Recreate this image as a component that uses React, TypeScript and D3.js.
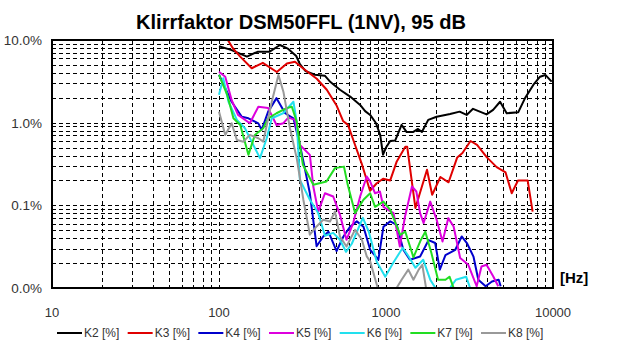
import React from "react";
import * as d3 from "d3";

const titleText = "Klirrfaktor DSM50FFL (1NV), 95 dB";
const xTickValues = [10, 100, 1000, 10000];
const xTickLabels = ["10", "100", "1000", "10000"];
const yTickValues = [0.01, 0.1, 1, 10];
const yTickLabels = ["0.0%", "0.1%", "1.0%", "10.0%"];
const seriesNames = ["K2 [%]", "K3 [%]", "K4 [%]", "K5 [%]", "K6 [%]", "K7 [%]", "K8 [%]"];
const seriesColors = ["#000000", "#e00000", "#0000cc", "#dd00dd", "#22e0ee", "#22dd22", "#999999"];

const k2: [number, number][] = [
  [100, 8.4], [118, 7.6], [147, 6.3], [170, 7.2], [200, 7.2], [232, 8.7], [260, 7.8], [290, 6.4],
  [305, 5.1], [330, 4.2], [375, 3.8], [430, 3.7], [465, 3.1], [530, 2.5], [610, 2.07], [700, 1.64],
  [750, 1.38], [804, 1.24], [870, 0.99], [923, 0.71], [960, 0.41], [1000, 0.5], [1060, 0.6],
  [1136, 0.61], [1240, 0.94], [1330, 0.77], [1450, 0.77], [1555, 0.84], [1640, 0.77], [1790, 1.08],
  [2010, 1.18], [2420, 1.27], [2760, 1.36], [3040, 1.24], [3320, 1.47], [4000, 1.26], [4380, 1.43],
  [4820, 1.79], [5280, 1.3], [6200, 1.34], [6800, 1.98], [7620, 2.86], [8360, 3.6], [9000, 3.78],
  [9820, 3.14],
];

const k3: [number, number][] = [
  [113, 10], [121, 7.95], [134, 6.3], [157, 4.55], [183, 5.3], [222, 4.1], [255, 5.2], [285, 5.45],
  [318, 4.55], [385, 3.4], [442, 2.5], [507, 1.6], [553, 1.05], [592, 0.94], [652, 0.54], [715, 0.32],
  [802, 0.15], [880, 0.185], [960, 0.21], [1060, 0.2], [1160, 0.34], [1305, 0.51], [1340, 0.51],
  [1430, 0.19], [1500, 0.093], [1605, 0.146], [1760, 0.27], [1890, 0.134], [2117, 0.22], [2370, 0.19],
  [2670, 0.38], [2870, 0.43], [3207, 0.6], [3510, 0.54], [4020, 0.38], [4600, 0.29], [5200, 0.25],
  [5660, 0.14], [6170, 0.2], [7050, 0.2], [7550, 0.084],
];

const k4: [number, number][] = [
  [100, 3.8], [119, 1.79], [137, 1.18], [150, 1.13], [172, 0.98], [180, 0.82], [197, 1.36], [221, 1.98],
  [249, 1.3], [279, 1.13], [305, 0.54], [320, 0.34], [350, 0.14], [384, 0.032], [421, 0.042],
  [452, 0.048], [506, 0.028], [556, 0.042], [609, 0.055], [669, 0.064], [733, 0.055], [804, 0.029],
  [900, 0.022], [965, 0.055], [1060, 0.064], [1160, 0.058], [1270, 0.029], [1390, 0.022], [1600, 0.024],
  [1800, 0.038], [1970, 0.035], [2100, 0.0167], [2270, 0.025], [2600, 0.029], [2840, 0.042],
  [3050, 0.035], [3340, 0.024], [3570, 0.0126], [3950, 0.0105], [4310, 0.012], [4730, 0.0126],
  [4860, 0.0105],
];

const k5: [number, number][] = [
  [100, 4.14], [109, 3.6], [119, 1.88], [130, 1.24], [153, 0.985], [172, 1.56], [197, 1.5], [221, 0.938],
  [243, 0.985], [260, 1.15], [285, 1.08], [305, 0.538], [350, 0.408], [367, 0.169], [393, 0.084],
  [431, 0.14], [483, 0.128], [530, 0.0768], [580, 0.0383], [636, 0.061], [700, 0.128], [767, 0.223],
  [804, 0.194], [860, 0.14], [920, 0.147], [965, 0.096], [1110, 0.0805], [1210, 0.0318], [1300, 0.0732],
  [1430, 0.169], [1520, 0.147], [1600, 0.0805], [1680, 0.061], [1840, 0.111], [2010, 0.0669],
  [2180, 0.0365], [2360, 0.07], [2540, 0.0555], [2780, 0.0231], [3110, 0.0191], [3490, 0.0105],
  [3730, 0.0182], [4000, 0.0191], [4390, 0.0138], [4700, 0.0105],
];

const k6: [number, number][] = [
  [100, 2.17], [106, 3.45], [114, 1.79], [128, 1.08], [143, 0.856], [157, 0.589], [176, 0.372],
  [193, 0.648], [207, 1.13], [242, 1.3], [279, 1.79], [292, 1.03], [305, 0.203], [350, 0.117],
  [392, 0.0812], [431, 0.0429], [483, 0.0465], [530, 0.0383], [576, 0.0274], [624, 0.0343],
  [685, 0.0535], [727, 0.0706], [789, 0.0479], [880, 0.0208], [990, 0.0137], [1105, 0.0202],
  [1260, 0.0307], [1370, 0.0239], [1500, 0.0176], [1670, 0.022], [1840, 0.0126], [1990, 0.0098],
  [2400, 0.0098], [2620, 0.0126], [3020, 0.0137], [3200, 0.0098],
];

const k7: [number, number][] = [
  [100, 3.78], [112, 2.17], [122, 1.13], [134, 0.938], [150, 0.408], [164, 0.711], [184, 0.855],
  [197, 1.13], [221, 1.3], [254, 1.5], [273, 1.56], [292, 1.03], [305, 0.538], [318, 0.309],
  [367, 0.177], [440, 0.194], [495, 0.282], [560, 0.294], [590, 0.177], [653, 0.0805], [733, 0.117],
  [804, 0.14], [860, 0.096], [965, 0.111], [1060, 0.0883], [1217, 0.044], [1305, 0.048], [1460, 0.0235],
  [1605, 0.037], [1720, 0.048], [1870, 0.0265], [2050, 0.0126], [2270, 0.0126], [2400, 0.0137],
  [2550, 0.0098],
];

const k8: [number, number][] = [
  [100, 1.36], [109, 0.711], [119, 0.985], [128, 0.618], [140, 0.589], [153, 0.711], [172, 0.648],
  [184, 0.589], [207, 1.79], [227, 3.78], [243, 2.37], [266, 0.855], [292, 0.372], [320, 0.117],
  [350, 0.0441], [384, 0.0555], [421, 0.0669], [462, 0.0638], [495, 0.0842], [530, 0.042],
  [580, 0.0318], [653, 0.0506], [717, 0.0383], [767, 0.0241], [804, 0.021], [880, 0.011], [895, 0.0098],
  [1150, 0.0098], [1240, 0.0126], [1360, 0.0167], [1460, 0.0126], [1570, 0.0167], [1650, 0.0191],
  [1740, 0.0098],
];

const allSeries = [k2, k3, k4, k5, k6, k7, k8];

const W = 631;
const H = 354;
const plot = { left: 52, right: 553, top: 40, bottom: 288 };

export default function App() {
  const x = d3.scaleLog().domain([10, 10000]).range([plot.left, plot.right]);
  const y = d3.scaleLog().domain([0.01, 10]).range([plot.bottom, plot.top]);

  const minorX: number[] = [];
  for (const d of [10, 100, 1000]) for (let k = 1; k <= 9; k++) minorX.push(d * k);
  const minorY: number[] = [];
  for (const d of [0.01, 0.1, 1]) for (let k = 1; k <= 9; k++) minorY.push(d * k);

  const line = d3
    .line<[number, number]>()
    .x((d) => x(d[0]))
    .y((d) => y(d[1]));

  const font = "'Liberation Sans', Arial, sans-serif";

  return (
    <svg
      width={W}
      height={H}
      style={{ position: "absolute", left: 0, top: 0, background: "#fff" }}
      fontFamily={font}
    >
      <rect x={0} y={0} width={W} height={H} fill="#fff" />
      <defs>
        <clipPath id="plotClip">
          <rect x={plot.left} y={plot.top} width={plot.right - plot.left} height={plot.bottom - plot.top} />
        </clipPath>
      </defs>
      <text
        x={301}
        y={29}
        textAnchor="middle"
        fontSize={20}
        fontWeight="bold"
        textLength={330}
        lengthAdjust="spacingAndGlyphs"
        fill="#000"
      >
        {titleText}
      </text>

      {/* grid */}
      <g stroke="#000" strokeWidth={1} strokeDasharray="4,3" shapeRendering="crispEdges">
        {minorX
          .filter((v) => v > 10 && v < 10000)
          .map((v, i) => (
            <line key={"gx" + i} x1={Math.round(x(v)) + 0.5} x2={Math.round(x(v)) + 0.5} y1={plot.top} y2={plot.bottom} />
          ))}
        {minorY
          .filter((v) => v > 0.0100001 && v < 9.99)
          .map((v, i) => (
            <line key={"gy" + i} y1={Math.round(y(v)) + 0.5} y2={Math.round(y(v)) + 0.5} x1={plot.left} x2={plot.right} />
          ))}
      </g>

      {/* series */}
      <g clipPath="url(#plotClip)" fill="none" strokeWidth={2} strokeLinejoin="round">
        {allSeries.map((s, i) => (
          <path key={"s" + i} d={line(s) || ""} stroke={seriesColors[i]} />
        ))}
      </g>

      {/* frame */}
      <rect
        x={plot.left}
        y={plot.top}
        width={plot.right - plot.left}
        height={plot.bottom - plot.top}
        fill="none"
        stroke="#000"
        strokeWidth={2}
      />

      {/* y labels */}
      {yTickValues.map((v, i) => (
        <text key={"yl" + i} x={42} y={y(v) + 5} textAnchor="end" fontSize={13.5} fill="#333">
          {yTickLabels[i]}
        </text>
      ))}

      {/* x labels */}
      {xTickValues.map((v, i) => (
        <text key={"xl" + i} x={x(v)} y={317} textAnchor="middle" fontSize={13} fill="#333">
          {xTickLabels[i]}
        </text>
      ))}

      <text x={560} y={283} fontSize={15} fontWeight="bold" fill="#000">
        [Hz]
      </text>

      {/* legend */}
      {seriesNames.map((n, i) => {
        const lx = 57 + i * 70.67;
        return (
          <g key={"lg" + i}>
            <line x1={lx} x2={lx + 25} y1={333} y2={333} stroke={seriesColors[i]} strokeWidth={2} />
            <text x={lx + 27} y={337} fontSize={12} fill="#333">
              {n}
            </text>
          </g>
        );
      })}
    </svg>
  );
}
